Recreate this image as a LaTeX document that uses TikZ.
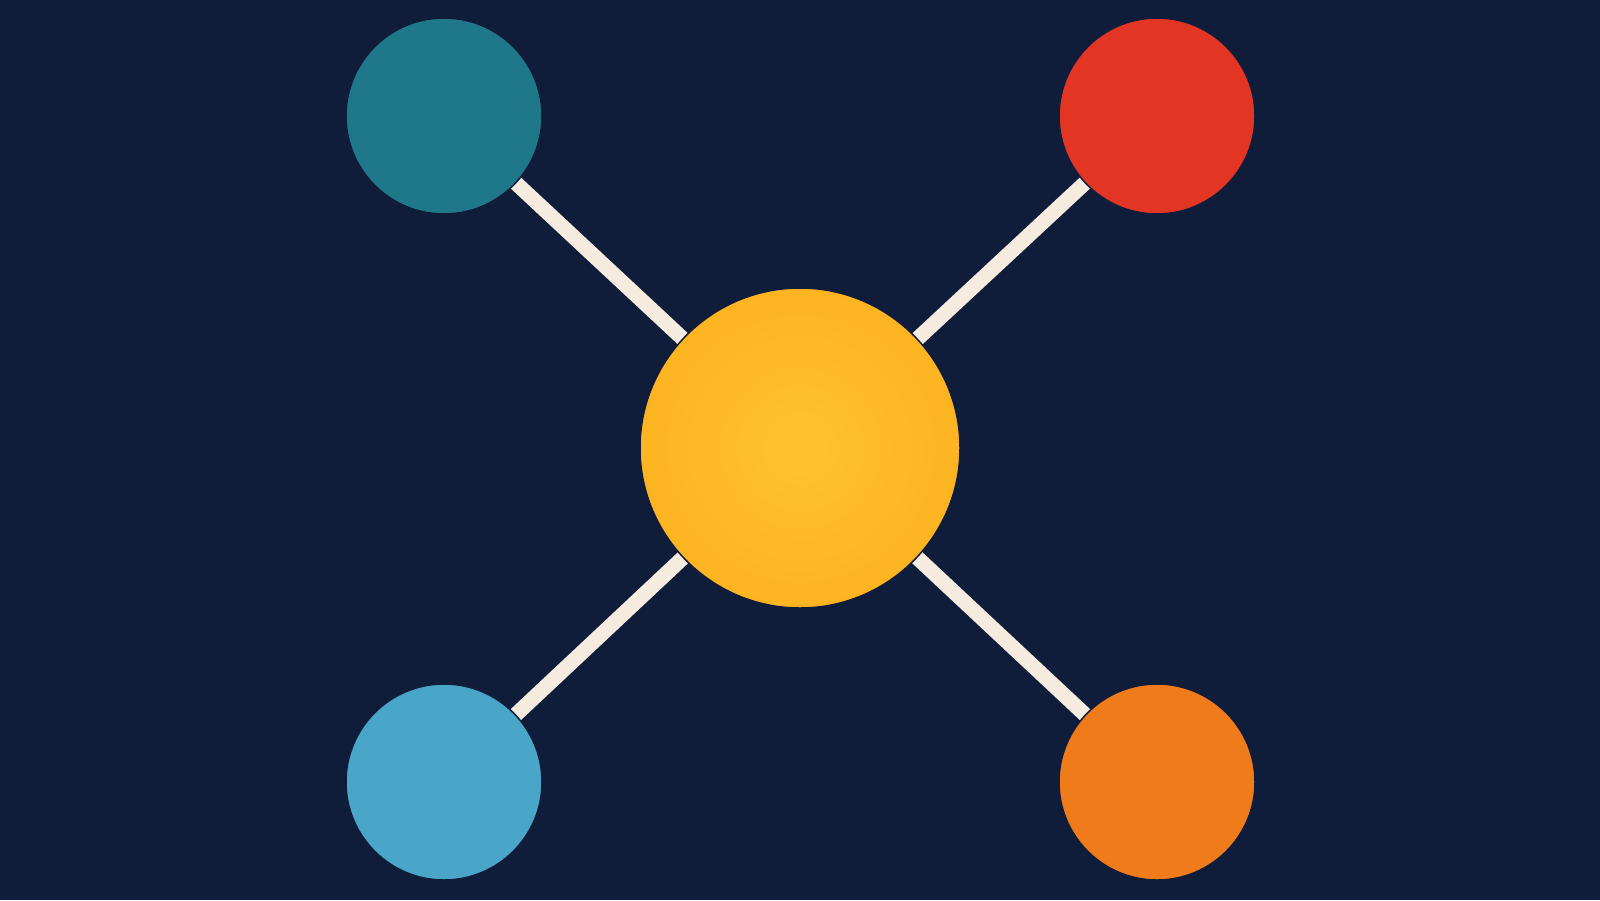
\documentclass[tikz,border=0pt]{standalone}
\pgfdeclarelayer{back}
\pgfdeclarelayer{links}
\pgfsetlayers{back,links,main}
\begin{document}
\begin{tikzpicture}[x=1pt,y=-1pt,
  link/.style={draw=cream,line width=15pt},
  ball/.style={circle,inner sep=0pt,minimum size=196pt,draw=bgc,line width=1.5pt}]
\definecolor{bgc}{HTML}{0F1C3A}
\definecolor{cream}{HTML}{F5EBDF}
\definecolor{teal}{HTML}{1E7889}
\definecolor{redc}{HTML}{E33524}
\definecolor{skyc}{HTML}{4AA6C8}
\definecolor{orangec}{HTML}{F07B1A}
\definecolor{yellowout}{HTML}{FDB420}
\definecolor{yellowin}{HTML}{FFC32E}
\begin{pgfonlayer}{back}
\fill[bgc] (0,0) rectangle (1600,900);
\end{pgfonlayer}
\useasboundingbox (0,0) rectangle (1600,900);
\node[ball,fill=teal] (tl) at (444,116) {};
\node[ball,fill=redc] (tr) at (1157,116) {};
\node[ball,fill=skyc] (bl) at (444,782) {};
\node[ball,fill=orangec] (br) at (1157,782) {};
\node[circle,inner sep=0pt,minimum size=320pt,draw=bgc,line width=1.5pt,
  inner color=yellowin,outer color=yellowout] (center) at (800,448) {};
\begin{pgfonlayer}{links}
\draw[link] (tl.center) -- (center.center);
\draw[link] (tr.center) -- (center.center);
\draw[link] (bl.center) -- (center.center);
\draw[link] (br.center) -- (center.center);
\end{pgfonlayer}
\end{tikzpicture}
\end{document}
